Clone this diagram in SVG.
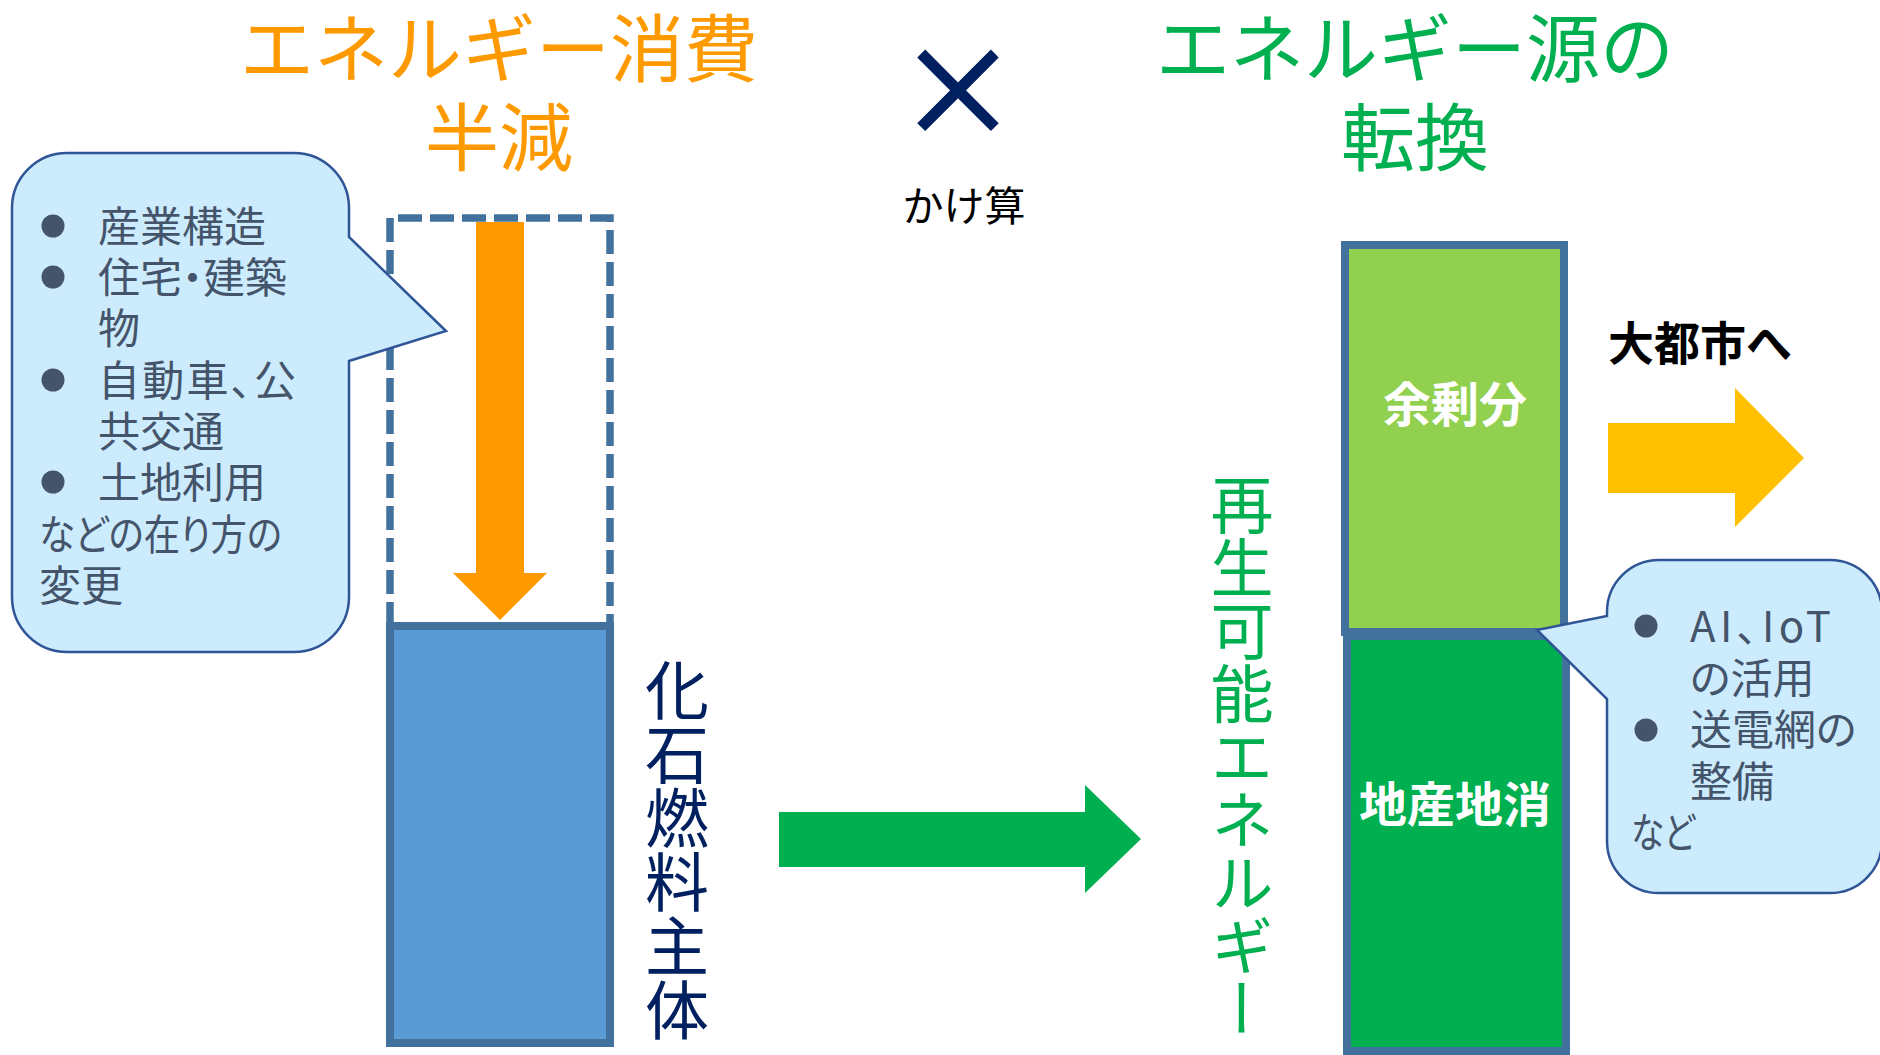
<svg xmlns="http://www.w3.org/2000/svg" width="1880" height="1055" viewBox="0 0 1880 1055">
<style>
text { font-family: "Noto Sans CJK JP", "Noto Sans", sans-serif; }
.title { font-size: 74px; text-anchor: middle; }
.orange { fill: #FF9900; }
.green { fill: #00B050; }
.call { fill: #CCEBFD; stroke: #2F5597; stroke-width: 2.5; }
.ct { font-size: 42px; fill: #44546A; font-feature-settings: "palt"; }
.bul { fill: #44546A; }
.bar { stroke: #41719C; stroke-width: 8; }
.lbl { font-size: 48px; font-weight: bold; fill: #FFFFFF; text-anchor: middle; }
.vert { writing-mode: vertical-rl; }
</style>
<rect width="1880" height="1055" fill="#FFFFFF"/>

<g id="title-left">
  <text class="title orange" x="499" y="76">エネルギー消費</text>
  <text class="title orange" x="499" y="165">半減</text>
</g>
<g id="times">
  <text x="958" y="136" font-size="120" fill="#002060" stroke="#002060" stroke-width="3" text-anchor="middle">×</text>
  <text x="964" y="221" font-size="41" fill="#000000" text-anchor="middle">かけ算</text>
</g>
<g id="title-right">
  <text class="title green" x="1415" y="76">エネルギー源の</text>
  <text class="title green" x="1415" y="165">転換</text>
</g>

<g id="fossil-reduced">
  <path d="M390,626 V218 H610 V626" fill="none" stroke="#41719C" stroke-width="7.5" stroke-dasharray="24 8"/>
</g>
<g id="fossil">
  <rect class="bar" x="390" y="626" width="220" height="417" fill="#5B9BD5" stroke-width="7.5"/>
  <text class="vert" x="677" y="658" font-size="64" fill="#002060">化石燃料主体</text>
</g>

<g id="callout-left">
  <path class="call" d="M67,153 H294 A55 55 0 0 1 349,208 V237 L446,331 L349,361 V597 A55 55 0 0 1 294,652 H67 A55 55 0 0 1 12,597 V208 A55 55 0 0 1 67,153 Z"/>
  <circle class="bul" cx="53" cy="226" r="11.5"/>
  <circle class="bul" cx="53" cy="277" r="11.5"/>
  <circle class="bul" cx="53" cy="380" r="11.5"/>
  <circle class="bul" cx="53" cy="482" r="11.5"/>
  <text class="ct" x="98" y="242">産業構造</text>
  <text class="ct" x="98" y="293">住宅・建築</text>
  <text class="ct" x="98" y="344">物</text>
  <text class="ct" x="98" y="396" textLength="198" lengthAdjust="spacing">自動車、公</text>
  <text class="ct" x="98" y="447">共交通</text>
  <text class="ct" x="98" y="498">土地利用</text>
  <text class="ct" x="39" y="550" textLength="243" lengthAdjust="spacingAndGlyphs">などの在り方の</text>
  <text class="ct" x="39" y="601">変更</text>
</g>

<g id="renewable">
  <rect class="bar" x="1345" y="245" width="219" height="387" fill="#92D050"/>
  <rect class="bar" x="1347" y="636" width="219" height="415" fill="#00B050"/>
  <text class="lbl" x="1455" y="422">余剰分</text>
  <text class="lbl" x="1455" y="822">地産地消</text>
  <text class="vert green" x="1242" y="473" font-size="63">再生可能エネルギー</text>
</g>

<g id="to-city">
  <text x="1608" y="360" font-size="46" font-weight="bold" fill="#000000">大都市へ</text>
</g>

<g id="callout-right">
  <path class="call" d="M1659,560 H1830 A52 52 0 0 1 1882,612 V841 A52 52 0 0 1 1830,893 H1659 A52 52 0 0 1 1607,841 V699 L1537,630 L1607,616 V612 A52 52 0 0 1 1659,560 Z"/>
  <circle class="bul" cx="1646" cy="626" r="11.5"/>
  <circle class="bul" cx="1646" cy="730" r="11.5"/>
  <text class="ct" x="1690" y="642" textLength="141" lengthAdjust="spacing">AI、IoT</text>
  <text class="ct" x="1690" y="694">の活用</text>
  <text class="ct" x="1690" y="745">送電網の</text>
  <text class="ct" x="1690" y="797">整備</text>
  <text class="ct" x="1631" y="848" textLength="64" lengthAdjust="spacingAndGlyphs">など</text>
</g>

<g id="connectors">
  <polygon points="476,222 524,222 524,573 547,573 500,620 453,573 476,573" fill="#FF9900"/>
  <polygon points="779,812 1085,812 1085,785 1141,839 1085,893 1085,867 779,867" fill="#00B050"/>
  <polygon points="1608,423 1735,423 1735,388 1804,458 1735,527 1735,493 1608,493" fill="#FFC000"/>
</g>
</svg>
